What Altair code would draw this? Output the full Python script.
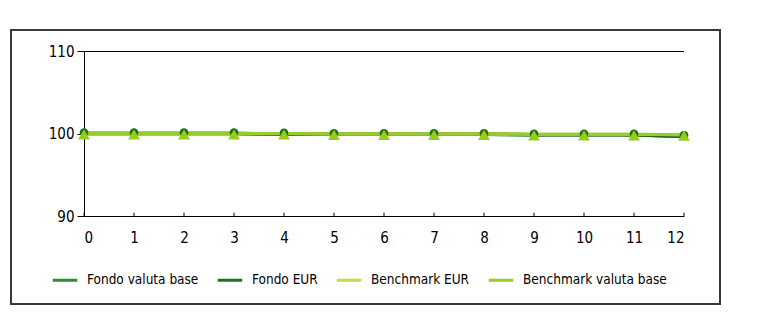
import altair as alt
import pandas as pd

x_vals = list(range(13))
series_names = ["Fondo valuta base", "Fondo EUR", "Benchmark EUR", "Benchmark valuta base"]
fondo_valuta_base = [100, 100, 100, 100, 99.95, 99.9, 99.9, 99.9, 99.9, 99.85, 99.85, 99.85, 99.65]
fondo_eur = [100, 100, 100, 100, 99.95, 99.9, 99.9, 99.9, 99.9, 99.85, 99.85, 99.85, 99.65]
benchmark_eur = [100, 100, 100, 100, 100, 99.95, 99.95, 99.95, 99.95, 99.9, 99.9, 99.9, 99.85]
benchmark_valuta_base = [100, 100, 100, 100, 100, 99.95, 99.95, 99.95, 99.95, 99.9, 99.9, 99.9, 99.85]
series_colors = ["#2e8b2e", "#226f22", "#c6d84a", "#9acb2c"]
y_ticks = [90, 100, 110]

rows = []
for name, vals in zip(series_names, [fondo_valuta_base, fondo_eur, benchmark_eur, benchmark_valuta_base]):
    for i, v in zip(x_vals, vals):
        rows.append({"x": i, "value": v, "serie": name})
df = pd.DataFrame(rows)
ticks_df = pd.DataFrame({"x": x_vals})

FONT = "DejaVu Sans Condensed"

xscale = alt.Scale(domain=[0, 12], nice=False, zero=False)
yscale = alt.Scale(domain=[90, 110], nice=False, zero=False)

base = alt.Chart(df)

frame = alt.Chart(ticks_df).mark_rect(fill="white", fillOpacity=0, stroke="#3a3a3a", strokeWidth=1.5).encode(
    x=alt.value(-73), x2=alt.value(636), y=alt.value(-21), y2=alt.value(253)
)

top_rule = alt.Chart(pd.DataFrame({"y": [110]})).mark_rule(color="black", strokeWidth=1, yOffset=0.5).encode(
    y=alt.Y("y:Q", scale=yscale)
)

xticks = alt.Chart(ticks_df).mark_rule(color="black", strokeWidth=1).encode(
    x=alt.X("x:Q", scale=xscale),
    y=alt.datum(90, scale=yscale),
    y2=alt.datum(90.4),
)

color = alt.Color(
    "serie:N",
    scale=alt.Scale(domain=series_names, range=series_colors),
    sort=series_names,
    legend=alt.Legend(
        title=None,
        orient="none",
        direction="horizontal",
        legendX=-33,
        legendY=215,
        symbolType="stroke",
        symbolSize=600,
        symbolStrokeWidth=3,
        labelFont=FONT,
        labelFontSize=13.5,
        labelColor="black",
        labelOffset=8,
        columnPadding=12,
    ),
)

lines_dark = base.transform_filter(
    alt.FieldOneOfPredicate(field="serie", oneOf=["Fondo valuta base", "Fondo EUR"])
).mark_line(strokeWidth=3.5).encode(
    x=alt.X("x:Q", scale=xscale, axis=alt.Axis(
        values=x_vals, ticks=False, labelPadding=14, domainColor="black",
        labelFont=FONT, labelFontSize=15, labelColor="black", grid=False, title=None)),
    y=alt.Y("value:Q", scale=yscale, axis=alt.Axis(
        values=y_ticks, tickSize=7, tickColor="black", labelPadding=3, domainColor="black",
        labelFont=FONT, labelFontSize=15, labelColor="black", grid=False, title=None)),
    color=color,
)

lines_light = base.transform_filter(
    alt.FieldOneOfPredicate(field="serie", oneOf=["Benchmark EUR", "Benchmark valuta base"])
).mark_line(strokeWidth=3).encode(
    x=alt.X("x:Q", scale=xscale),
    y=alt.Y("value:Q", scale=yscale),
    color=color,
)

pts_fondo = base.transform_filter(alt.datum.serie == "Fondo valuta base").mark_point(
    shape="circle", filled=True, size=75, color="#1f6e14", opacity=1, yOffset=-1
).encode(x=alt.X("x:Q", scale=xscale), y=alt.Y("value:Q", scale=yscale))

pts_bench = base.transform_filter(alt.datum.serie == "Benchmark valuta base").mark_point(
    shape="triangle-up", filled=True, size=140, color="#99cc1a", opacity=1, yOffset=1
).encode(x=alt.X("x:Q", scale=xscale), y=alt.Y("value:Q", scale=yscale))

chart = alt.layer(frame, top_rule, xticks, lines_dark, lines_light, pts_fondo, pts_bench).properties(
    width=600,
    height=165,
    autosize=alt.AutoSizeParams(type="none"),
    padding={"left": 76, "top": 43, "right": 40, "bottom": 92},
).configure(background="white").configure_view(stroke=None)

chart.save("out.html", embed_options={"renderer": "svg", "actions": False})
